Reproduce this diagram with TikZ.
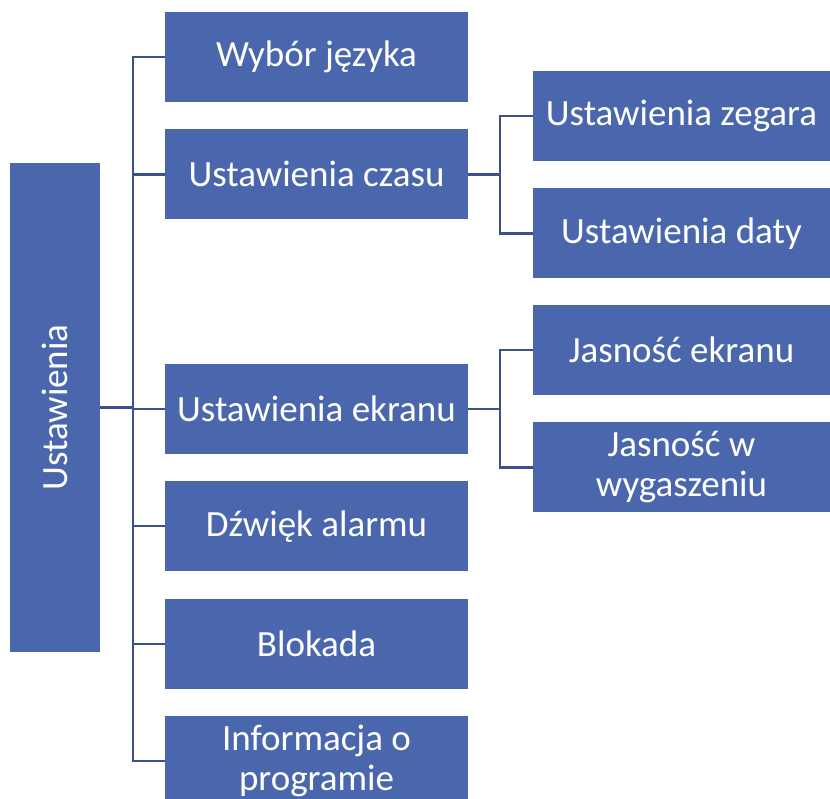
\documentclass[tikz,border=0pt]{standalone}
\usepackage{fontspec}
\setmainfont{Carlito}
\usepackage{graphicx}
\usetikzlibrary{positioning}
\definecolor{boxblue}{RGB}{74,103,174}
\definecolor{linkblue}{RGB}{59,81,142}
\tikzset{
	x=1pt, y=-1pt, % pixel-like units, y grows downwards
	box/.style={fill=boxblue, text=white, align=center, inner sep=0pt, font=\fontsize{37}{40}\selectfont}, % every blue block
	menu/.style={box, minimum width=303pt, minimum height=90pt}, % first level entries
	sub/.style={box, minimum width=297pt, minimum height=90pt}, % second level entries
	link/.style={draw=linkblue, line width=2.2pt}, % tree connectors
	node distance=27pt,
}
\begin{document}
\begin{tikzpicture}
	\useasboundingbox (0,0) rectangle (830,798);
			\node[box, minimum width=90pt, minimum height=489pt] (root) at (55,407.5) {\rotatebox{90}{Ustawienia}};
			\node[menu] (wybor) at (316.5,57) {Wybór języka};
			\node[menu, below=of wybor] (czasu) {Ustawienia czasu};
			\node[menu, below=144pt of czasu] (ekranu) {Ustawienia ekranu};
			\node[menu, below=of ekranu] (alarm) {Dźwięk alarmu};
			\node[menu, below=of alarm] (blokada) {Blokada};
			\node[menu, below=of blokada] (info) {Informacja o\\programie};
			\node[sub] (zegara) at (681.5,116) {Ustawienia zegara};
			\node[sub, below=of zegara] (daty) {Ustawienia daty};
			\node[sub] (jasnosc) at (681.5,350) {Jasność ekranu};
			\node[sub, below=of jasnosc] (wygasz) {Jasność w\\wygaszeniu};
	\coordinate (trunk) at (133,0);
	\coordinate (fork) at (500,0);
	\draw[link] (wybor.west) -| (trunk |- info.west) -- (info.west);
	\foreach \n in {czasu,ekranu,alarm,blokada}
		\draw[link] (\n.west) -- (\n.west -| trunk);
	\draw[link] (root.east) -- (root.east -| trunk);
	\draw[link] (czasu.east) -- (czasu.east -| fork);
	\draw[link] (zegara.west) -| (fork |- daty.west) -- (daty.west);
	\draw[link] (ekranu.east) -- (ekranu.east -| fork);
	\draw[link] (jasnosc.west) -| (fork |- wygasz.west) -- (wygasz.west);
\end{tikzpicture}
\end{document}
